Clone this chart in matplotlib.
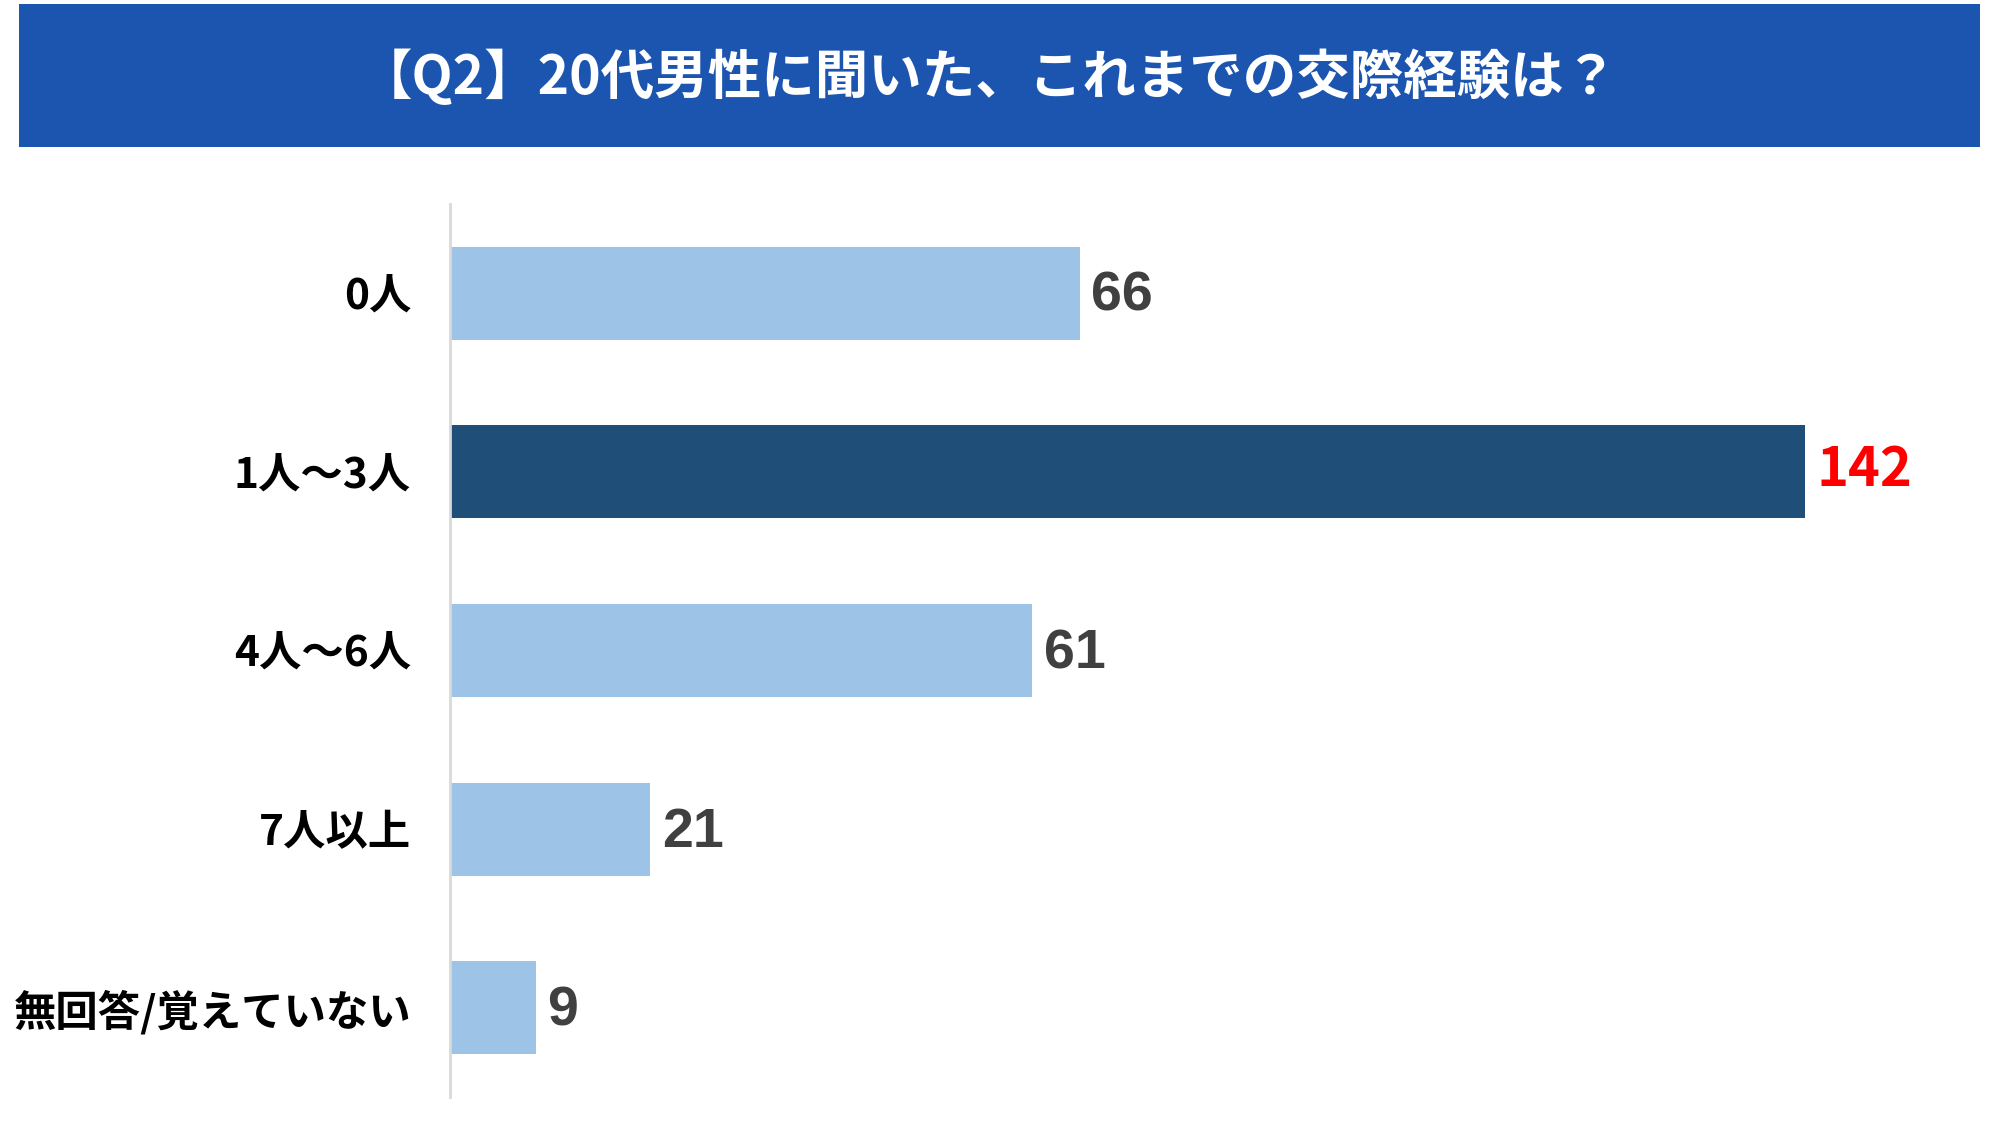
import matplotlib.pyplot as plt
import matplotlib.patches as patches
from matplotlib import font_manager

plt.rcParams['font.family'] = ['Noto Sans CJK JP', 'DejaVu Sans']

categories = ['0人', '1人～3人', '4人～6人', '7人以上', '無回答/覚えていない']
counts = [66, 142, 61, 21, 9]
highlight = 1
title = '【Q2】20代男性に聞いた、これまでの交際経験は？'

light_blue = '#9dc3e6'
dark_blue = '#1f4e79'

names = {f.name for f in font_manager.fontManager.ttflist}
num_font = 'Liberation Sans Narrow' if 'Liberation Sans Narrow' in names else 'Liberation Sans'

fig = plt.figure(figsize=(20, 11.25), dpi=100)

# title banner
fig.patches.append(patches.Rectangle((19 / 2000, 1 - 147 / 1125), 1961 / 2000, 143 / 1125,
                                     transform=fig.transFigure, facecolor='#1c55b0',
                                     edgecolor='none', zorder=0))
fig.text(0.494, 1 - 78 / 1125, title, color='white', fontsize=38.5, fontweight='bold',
         ha='center', va='center')

ax = fig.add_axes([0.225, 0.0249, 0.7634, 0.7938])
y = list(range(len(categories)))
colors = [dark_blue if i == highlight else light_blue for i in y]
ax.barh(y, counts, height=0.52, color=colors, zorder=2)

ax.set_ylim(len(categories) - 0.5, -0.5)
ax.set_xlim(0, 160)

for i, v in enumerate(counts):
    if i == highlight:
        ax.text(v + 1.2, i - 0.01, str(v), color='#ff0000', fontsize=39, fontweight='bold',
                va='center', ha='left')
    else:
        ax.text(v + 1.2, i + 0.02, str(v), color='#404040', fontsize=40, fontweight='bold',
                va='center', ha='left', family=num_font)

ax.set_yticks(y)
ax.set_yticklabels(categories, fontsize=30.5, fontweight='bold', color='black')
for lbl in ax.get_yticklabels():
    lbl.set_y(lbl.get_position()[1])
ax.tick_params(axis='y', length=0, pad=28)
ax.set_xticks([])

for s in ['top', 'right', 'bottom']:
    ax.spines[s].set_visible(False)
ax.spines['left'].set_color('#d9d9d9')
ax.spines['left'].set_linewidth(2)

fig.savefig('out.png', dpi=100)
